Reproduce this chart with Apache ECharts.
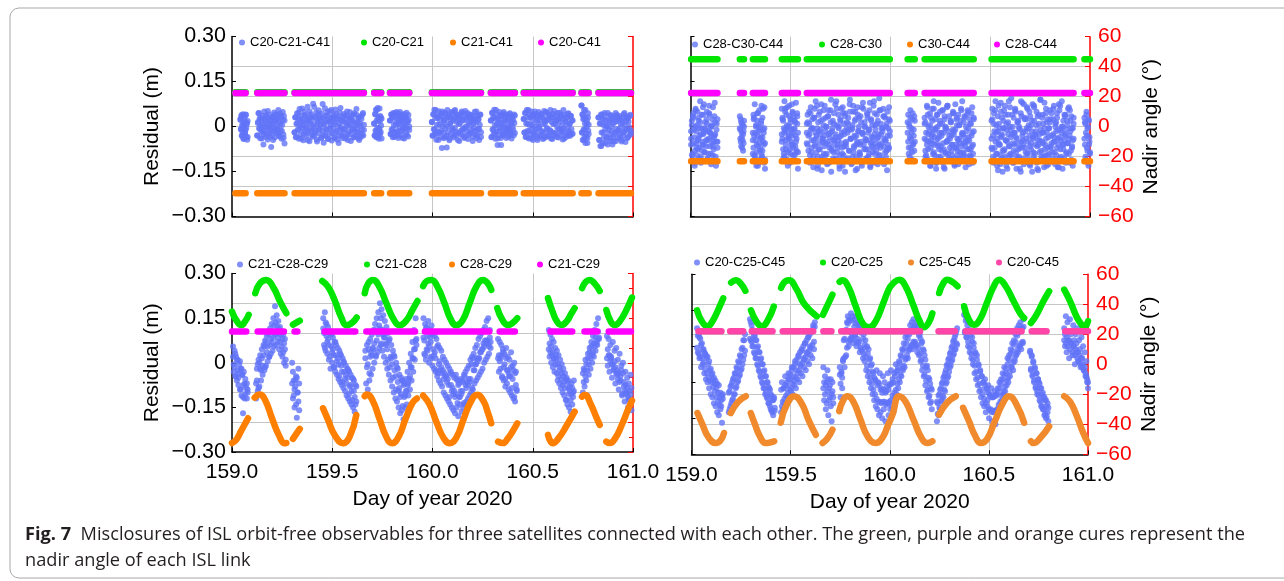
<!DOCTYPE html>
<html><head><meta charset="utf-8">
<script src="https://cdn.jsdelivr.net/npm/echarts@6/dist/echarts.min.js"></script>
<style>html,body{margin:0;padding:0;background:#fff}#c{width:1284px;height:581px}</style>
</head><body><div id="c"></div>
<script>
// ---------- tick labels ----------
const xTicks = [159.0, 159.5, 160.0, 160.5, 161.0];
const residualTicks = [-0.30, -0.15, 0, 0.15, 0.30];
const angleTicks = [-60, -40, -20, 0, 20, 40, 60];

// ---------- series names ----------
const namesTL = ['C20-C21-C41', 'C20-C21', 'C21-C41', 'C20-C41'];
const namesTR = ['C28-C30-C44', 'C28-C30', 'C30-C44', 'C28-C44'];
const namesBL = ['C21-C28-C29', 'C21-C28', 'C28-C29', 'C21-C29'];
const namesBR = ['C20-C25-C45', 'C20-C25', 'C25-C45', 'C20-C45'];

// ---------- residual clouds: [start day, end day, residual rows in mm spread over that pass] ----------
const residTL = [
 [159.042,159.078,[22,-8,35,-31,4,-18,41,-40,12,-2,28,-25,-12,38,-36,8,-44,18],[25,-10,38,-30,5,-42,18,-20,40,-5,12,-35]],
 [159.126,159.262,[-30,12,44,-6,27,-39,3,-18,21,-14,36,-26,50,1,-34,17,-4,31,-43,9,40,-21,24,-11,-68,-29,7,33,-16,47,-37,19,-8,26,-2,38,-23,14,-33,43,-12,29,-41,5,22,-27,35,-57],[-30,15,45,-8,28,-40,5,-60,22,-15,35,-25,52,0,-35,18,-5,30,-45,10,40,-20,25,-10,55,-30,8,35,-15,48,-38,20]],
 [159.312,159.658,[-19,31,-36,9,44,-11,24,-41,58,4,-26,37,-6,19,-46,14,49,-16,33,-31,-1,66,-21,27,-49,11,41,-9,23,-34,76,6,-29,34,-13,47,-43,17,-4,54,-23,29,7,-39,43,-14,26,-54,9,61,-31,21,-9,36,-41,16,51,-24,4,31,-47,23,-7,39,-36,13,57,-19,27,-44,1,34,-29,46,-11,-3,18,-38,29,-21,42,-8,12,-33,37,2,-45,25,-17,48,-26,8,35,-10,20,-37,44,-15,3,-28,39,-6,15,-40,30,-22,10,-35,26,-12,41,-30,6],[-20,30,-35,10,45,-10,25,-40,60,5,-25,38,-5,20,-45,15,50,-15,32,-30,0,65,-20,28,-50,12,40,-8,22,-35,75,5,-28,35,-12,48,-42,18,-5,55,-22,30,8,-38,42,-15,25,-55,10,62,-30,20,-10,35,-40,15,50,-25,5,30,-48,22,-8,40,-35,12,58,-18,28,-45,2,35,-28,45,-12]],
 [159.709,159.746,[10,-30,42,-14,56,-36,21,-4,62,-24,31,-41,-9,17,35,-18,3,26],[10,-30,40,-15,55,-35,20,-5,60,-25,30,-40]],
 [159.788,159.884,[20,-25,40,-10,31,-36,45,5,-19,35,-31,15,48,-15,25,-38,10,42,-5,30,-28,18,38,-12,-2,27,-40,8,33,-22,46,-7,14,-33,22,0],[20,-25,40,-10,30,-35,45,5,-20,35,-30,15,48,-15,25,-38,10,42,-5,30,-28,18,38,-12]],
 [159.997,160.242,[15,-31,41,-9,56,-24,28,-44,6,35,-16,51,-21,20,-36,43,-72,1,31,-39,12,47,-7,25,-31,55,-19,37,-46,8,30,-26,44,-11,19,-37,52,-4,32,-29,16,40,-20,24,-48,10,36,-14,50,-30,22,-7,41,-35,-1,28,-17,45,-42,11,33,-23,3,38,-12,27,-34,18,-5,49,-27,14,-38,34,-9,24,-45,6,39,-19],[15,-30,40,-10,55,-25,28,-45,5,35,-15,50,-20,20,-35,42,-70,0,30,-40,12,48,-8,25,-30,55,-18,38,-45,8,30,-25,45,-10,20,-38,52,-5,32,-28,15,40,-20,25,-48,10,35,-15,50,-30,22,-8,40,-35]],
 [160.291,160.411,[20,-36,46,-10,29,-24,56,5,-41,25,-16,38,-62,11,-30,48,-5,21,-38,35,1,-20,43,-27,14,31,-12,40,-22,-3,18,-33,27,-8,44,-17,9,-40,33,-1,22,-29,12,37],[20,-35,45,-10,30,-25,55,5,-40,25,-15,38,-62,10,-30,48,-5,22,-38,35,0,-20,42,-28,15,30,-12,40,-22]],
 [160.455,160.699,[25,-20,45,-35,10,55,-15,30,-40,5,38,-25,50,-10,20,-45,35,0,-30,42,-18,28,-38,12,48,-5,22,-32,40,-15,30,-42,8,52,-22,18,-35,45,-8,25,-28,38,-12,55,-40,15,30,-20,42,-30,10,35,-25,20,-3,27,-37,14,46,-11,33,-19,4,-43,24,-6,39,-27,17,-34,29,-2,44,-16,9,-31,36,-9,21,-24],[25,-20,45,-35,10,55,-15,30,-40,5,38,-25,50,-10,20,-45,35,0,-30,42,-18,28,-38,12,48,-5,22,-32,40,-15,30,-42,8,52,-22,18,-35,45,-8,25,-28,38,-12,55,-40,15,30,-20,42,-30,10,35,-25,20]],
 [160.743,160.779,[70,-20,40,-45,25,-10,55,-35,10,-55,30,-25,-2,18,-38,44,-14,6],[70,-20,40,-45,25,-10,55,-35,10,-55,30,-25]],
 [160.828,160.990,[30,-45,10,-65,40,-20,25,-55,5,-35,45,-10,20,-40,0,-60,35,-25,15,-48,38,-15,25,-35,10,-50,30,-20,45,-8,18,-38,28,-12,35,-25,-3,22,-44,12,-30,41,-18,6,-52,27,-9,33,-36,16,-2,-28,39,-14],[30,-45,10,-65,40,-20,25,-55,5,-35,45,-10,20,-40,0,-60,35,-25,15,-48,38,-15,25,-35,10,-50,30,-20,45,-8,18,-38,28,-12,35,-25]]
];
const residTR = [
 [159.003,159.135,[-40,20,-90,45,-10,-120,60,-55,5,-75,30,-30,85,-100,-5,-60,40,-20,-85,15,-45,50,-110,-15,70,-65,0,-35,25,-95,-50,35,-25,-130,10,-70],[-60,5,-110,30,-35,-80,55,-15,-95,-45,20,-70,-5,-120,40,-50,-25,75,-85,-10,-65,10,-105,-40,45,-20,-90,0,-55,65,-75,-30,15,-115,-50,25],[-15,-95,35,-55,-130,0,-70,50,-40,-105,15,-25,-80,65,-60,-5,-115,25,-45,-90,40,-20,-125,5,-65,-35,80,-100,-10,-50]],
 [159.247,159.268,[35,-10,-50,15,-35,-70,5,-25,-55,20],[-5,-40,25,-65,-20,10,-45,-80,-15,0]],
 [159.312,159.373,[-90,40,-30,75,-110,0,-60,20,-130,-15,55,-80,-40,10,-100,30,-50,-20,65,-140],[-20,-70,30,-100,-45,5,-85,-30,45,-120,-55,-10,-75,20,-95,-35,60,-60,-5,-110],[-45,25,-95,-20,-130,45,-65,0,-110,-35,70,-80,-10,-120,-55]],
 [159.457,159.538,[60,-40,20,-90,85,-10,-60,40,-110,0,-30,70,-75,15,-50,-20,50,-95,30,-5,-65,80,-40,10,-85],[-25,30,-75,-5,-100,50,-45,-15,65,-85,-35,0,-120,25,-60,-30,45,-70,-10,-95,15,-50,-80,35,-20],[-50,25,-105,-20,60,-75,5,-130,-40,35,-90,-10,75,-60,-115,20,-30,-85,45,-140]],
 [159.582,159.998,[-20,40,-80,10,-120,65,-45,-5,-100,30,-60,85,-30,-140,15,-75,50,-10,-110,-40,25,-90,70,-55,0,-125,35,-25,-70,55,-150,-15,20,-85,-45,75,-105,5,-60,40,-35,-95,60,-20,-130,10,-65,45,-50,-5,-115,30,-80,90,-40,-10,-100,50,-70,20,-145,-30,65,-55,0,-90,35,-120,-20,80,-60,15,-40,-105,45,-75,-10,55,-135,25,-50,-85,70,-25,5,-110,40,-65,-35,95,-95,10,-55,-15,60,-125,30,-45,-80,50,-5,-70,20],[10,-60,-30,50,-95,-10,-70,25,-115,-45,60,-20,-85,-5,-130,40,-55,-25,75,-100,-40,5,-65,-15,30,-90,-50,55,-120,-35,15,-75,-5,-105,45,-60,-25,85,-85,-45,0,-140,20,-30,-70,65,-95,-15,35,-55,-110,-20,10,-80,50,-40,-125,-5,70,-65,-35,25,-100,-50,40,-15,-85,-60,15,-130,-25,60,-75,0,-45,-110,30,-20,-90,80,-55,-35,5,-70,-120,45,-10,-80,-40,20,-95,-60,55,-25,-115,-5,-65,35,-45,-100,10,-30,-75,65,-15],[-55,15,-115,-25,45,-85,-5,-135,30,-65,-40,70,-100,-15,-75,20,-145,-50,55,-30,-95,0,-120,35,-60,-20,90,-80,-45,10,-110,-35,60,-70,-5,-130,25,-55,-90,45,-25,-150,-65,15,-105,-10,75,-40,-120,5,-85,-30,50,-60,-140,-15,30,-95,-50,65,-20,-115,0,-75,-45,40,-100,-10,-130,20,-65,-35,85,-90,-55,10,-125,-25,55,-70,-5,-110,35,-40,-85,0,-145,-60,25,-30]],
 [160.087,160.123,[-20,40,-70,10,-100,55,-40,-5,-85,25,-60,-30,35,-50],[15,-50,-90,0,-35,30,-70,-20,-110,45,-55,-10,-80,20]],
 [160.172,160.418,[30,-80,-20,70,-110,0,-50,45,-130,-30,20,-90,60,-60,-10,-120,40,-40,80,-75,10,-100,-20,55,-55,-135,25,-85,-5,65,-45,-110,35,-70,15,-30,-95,50,-15,-125,75,-60,5,-80,40,-40,-105,20,-65,85,-25,-90,30,-50,0,-115,55,-35,-75,10,-100,45,-20,-60,25],[-40,15,-95,-60,40,-25,-115,5,-70,-45,60,-10,-85,-35,25,-140,-55,0,-100,-20,50,-65,-30,10,-120,-75,35,-5,-90,-50,70,-15,-105,-40,20,-80,-60,45,-25,-130,-10,-70,30,-95,-45,5,-55,-115,55,-20,-85,15,-35,-65,-100,40,-50,-5,-125,25,-75,-30,65,-90,-15],[10,-100,-45,65,-75,-15,-130,30,-55,-25,85,-95,-5,-120,40,-65,-35,20,-110,-80,55,-20,-140,0,-50,70,-90,-30,-115,15,-60,-10,45,-105,-70,25,-40,-125,5,-85,60,-25,-100,-55,35,-135,-15,-75,50,-45,-95,10,-65,-120,30]],
 [160.507,160.918,[-40,60,-100,10,-70,85,-20,-130,35,-55,-5,-95,50,-30,-150,20,-80,70,-45,-10,-115,40,-65,0,-90,95,-25,-120,30,-60,55,-35,-100,15,-75,-5,-140,45,-50,80,-20,-105,25,-70,-40,65,-90,5,-125,35,-55,-15,75,-85,20,-110,-30,50,-65,-145,10,-45,90,-80,-20,40,-100,-5,-60,60,-130,25,-35,-90,15,-70,45,-115,-25,70,-50,0,-95,30,-40,-135,55,-75,-10,85,-60,20,-105,-30,40,-85,5,-55,65,-120,-15,35,-65,-45,10],[20,-75,-30,45,-110,-50,5,-90,-15,70,-60,-125,-35,30,-80,-5,55,-100,-45,10,-140,-25,85,-65,-10,-95,40,-55,-120,-20,60,-85,-40,15,-105,0,-70,-150,35,-30,-60,75,-115,-15,25,-90,-50,-5,50,-130,-75,20,-35,-100,65,-25,-60,5,-140,-45,40,-85,-10,-110,30,-55,-20,80,-95,-40,15,-70,-125,-5,55,-65,-30,-105,25,-50,-85,10,-15,45,-135,-60,-35,70,-100,-20,0,-75,-45,35,-120,-10,-55,60,-90,-30,20,-110,-70,-5,-40],[-70,25,-120,-15,55,-90,-40,-145,10,-60,80,-25,-105,-5,-75,40,-130,-50,15,-95,65,-35,-115,0,-80,-20,50,-140,-55,20,-100,-10,85,-70,-45,-125,30,-85,-5,60,-110,-30,-65,5,-150,-40,70,-90,-15,-120,35,-60,-25,90,-100,-50,10,-135,-75,45,-20,-95,-5,-115,25,-55,-85,60,-35,-125,15,-70,-10,75,-105,-45,0,-140,-60,40,-25,-90,20,-115,-40,55,-80,-5,-130,30]],
 [160.972,161.000,[30,-60,10,-110,50,-30,-80,0,-130,20,-50,-90],[-40,15,-100,-20,40,-70,-5,-120,25,-60,-35,-85]]
];
const residBL = [
 [159.005,159.078,[55,-30,40,-45,20,-60,10,-75,-5,-90,-20,-110,-40,-170,-30,-120,-55,-200,-70,-100],[20,-5,-15,30,-45,10,-25,-50,-35,5,-90,-20,-40,-115,-75,-70,-105,-85,-120,-90]],
 [159.120,159.268,[-120,-20,-95,10,-80,25,-60,45,-40,60,-25,75,-10,90,5,100,20,115,30,130,40,150,55,190,60,160,70,140,45,120,30,105,20,95,0,80,-10],[-70,-60,-5,-85,0,-20,-25,15,-10,25,55,-15,70,35,55,95,20,60,80,70,105,85,125,95,135,100,120,85,110,70,95,55,80,35,65,45,10]],
 [159.300,159.335,[0,-120,-60,-150,-80,-45,-185,-100,-130,-70],[-70,-30,-110,-90,-60,-140,-50,-100,-20,-160]],
 [159.455,159.620,[150,60,170,40,130,30,120,10,100,-20,95,0,85,-15,70,-30,60,-40,50,-55,40,-65,25,-75,15,-85,0,-95,-10,-110,-20,-120,-30,-130,-40,-140,-50,-150,-60,-165,-75,-130],[115,100,50,135,90,70,80,60,20,105,55,35,45,25,-15,70,25,5,15,-5,-45,30,-10,-30,-65,5,-30,-55,-40,-70,-50,-25,-105,-80,-75,-95,-125,-55,-95,-115,-140,-80]],
 [159.665,159.920,[40,-110,60,-90,70,-60,80,-40,95,-20,110,0,130,20,150,35,170,50,200,60,180,40,160,20,140,0,120,-20,100,-40,80,-60,60,-80,40,-100,20,-120,0,-130,-20,-150,-40,-170,-50,-160,-60,-190,-70,-150,-55,-140,-30,-110,0,-90,30,-60,70,-30,110,10,150,60],[15,-70,-15,-5,45,-35,20,35,25,50,45,65,110,25,75,105,95,125,115,150,65,110,95,85,85,60,65,45,10,75,-15,20,15,-5,-50,25,-25,-45,-90,-15,-65,-95,-85,-115,-105,-60,-145,-75,-115,-110,-95,-95,-75,-70,-55,-45,-15,-15,15,15,45,45,75,80]],
 [159.955,160.290,[150,30,130,10,120,40,140,0,110,20,125,-10,100,-20,90,-30,80,-45,60,-60,50,-70,40,-80,20,-100,10,-110,0,-120,-10,-130,-20,-140,-30,-150,-40,-160,-50,-170,-40,-150,-60,-180,-70,-140,-55,-165,-60,-150,-40,-140,-30,-130,-20,-120,-10,-110,10,-100,20,-90,30,-70,50,-60,60,-50,80,-40,90,-30,100,-20,110,0,120,10,140,20,150,30,110,50],[85,75,25,115,45,90,65,55,85,70,15,95,45,25,35,15,-25,55,-35,-5,5,-25,-15,-35,-25,-55,-35,-45,-45,-65,-55,-75,-115,-35,-75,-95,-85,-105,-95,-115,-105,-55,-135,-75,-115,-115,-95,-105,-95,-65,-135,-45,-75,-85,-65,-75,-55,-65,-55,-5,-85,15,-25,-25,-5,-5,15,5,15,15,35,35,45,45,65,55,75,65,75,75,65,55,85,70]],
 [160.327,160.420,[80,-30,70,-20,60,-50,45,-60,30,-80,50,-70,20,-90,10,-100,35,-110,-10,-120,0,-130,-30,-90],[15,25,5,15,25,-45,35,-15,-5,-55,15,-25,-25,-35,-45,-45,-15,-85,-55,-25,-115,-35,-75,-95]],
 [160.580,160.705,[110,20,95,0,80,-15,70,-30,50,10,40,-60,25,-70,10,-85,-5,-100,-20,-110,-35,-125,-50,-140,-60,-150,-80,-165,-70,-140,-100,-60],[45,65,35,55,25,35,15,15,-5,25,-35,-5,-45,-15,-25,-55,-35,-75,-45,-65,-85,-55,-125,-65,-85,-105,-95,-125,-105,-85,-115,-95]],
 [160.750,160.830,[-100,-20,-80,10,-60,-110,30,-40,50,-20,70,0,90,20,110,40,130,60,150,80],[-35,-65,-25,-45,-5,-25,15,-5,35,15,55,25,35,65,55,85,65,75,105,85]],
 [160.870,160.992,[90,-10,80,-30,60,20,-50,70,-20,40,-70,50,-40,10,-90,30,-60,-10,-110,0,-80,-130,-30,-100,-50,-150,-70,-120,-40,-160],[15,45,25,25,5,15,-5,-5,-25,5,-15,-35,-25,-55,-35,-65,-45,-25,-105,-35,-65,-95,-75,-105,-85,-115,-125,-95,-105,-85]]
];
const residBR = [
 [159.028,159.158,[120,40,100,20,85,-10,70,0,50,-30,35,-50,20,-60,0,-80,-20,-100,-35,-110,-50,-130,-65,-140,-80,-160,-95,-170,-110,-150,-120,-195,-100],[55,95,35,90,25,65,20,50,5,40,-15,30,-30,25,-45,10,-55,-15,-60,-30,-75,-45,-90,-55,-110,-65,-125,-70,-135,-95,-140,-105,-115]],
 [159.188,159.270,[-160,-90,-140,-70,-120,-50,-100,-30,-80,-10,-60,10,-40,30,-20,50,0,80,30,100],[-95,-150,-75,-130,-60,-115,-45,-100,-30,-75,-15,-55,5,-35,25,-15,55,15,80,45]],
 [159.295,159.420,[150,80,130,60,110,40,95,20,80,0,60,-20,40,-40,20,-60,0,-80,-20,-100,-40,-110,-60,-130,-80,-140,-100,-155,-120,-170,-110,-145],[85,140,75,115,60,95,35,80,20,55,-5,40,-25,15,-45,0,-65,-25,-80,-40,-95,-60,-115,-75,-130,-85,-150,-105,-160,-120,-115,-155]],
 [159.452,159.622,[-160,-60,-150,-80,-130,-40,-140,-70,-110,-30,-120,-50,-90,-10,-100,-40,-70,10,-80,-20,-50,30,-60,0,-30,50,-40,20,-10,70,-20,40,10,90,0,60,30,110,20,130,50,140],[-85,-140,-125,-80,-115,-70,-105,-60,-95,-50,-85,-35,-80,-20,-65,-10,-55,0,-45,15,-30,25,-20,40,-5,45,5,60,15,70,25,80,35,90,45,100,55,110,65,120,75,125]],
 [159.665,159.715,[-10,-120,-40,-150,-60,-20,-170,-80,-110,-50,-190,-90,-130],[-80,-60,-100,-70,-130,-90,-50,-120,-70,-140,-100,-60,-110]],
 [159.748,160.212,[-10,-110,-30,-80,10,80,-10,110,30,140,160,60,150,80,170,90,160,70,150,100,160,60,140,70,130,40,130,50,110,20,100,10,80,-20,60,-40,50,-60,20,-80,0,-100,-30,-120,-50,-140,-20,-150,-60,-170,-30,-160,-80,-180,-40,-150,-60,-190,-90,-130,-30,-170,-70,-150,-20,-140,-50,-160,-30,-110,0,-100,-20,-80,10,-60,30,-40,50,-20,70,-10,90,20,100,20,110,50,130,60,140,50,150,70,130,60,140,40,120,30,100,10,70,-20,50,-40,30,-70,-10,-90,-20,-110,-50,-130,-80,-150],[-35,-65,-25,-45,15,20,85,25,115,55,135,75,145,85,105,145,85,110,125,95,135,75,85,115,75,110,55,105,45,85,35,65,25,55,-5,35,-25,15,-45,-5,-65,-25,-85,-45,-100,-55,-115,-70,-125,-65,-125,-85,-130,-95,-125,-85,-125,-95,-135,-75,-130,-85,-125,-65,-120,-65,-105,-60,-95,-40,-85,-25,-65,-10,-50,5,-35,25,-15,45,-5,55,15,70,30,85,45,100,55,110,65,120,75,120,75,125,65,110,55,95,35,85,15,75,-5,45,-35,15,-55,-5,-85,-45,-105,-65,-125,-85]],
 [160.238,160.340,[-190,-130,-170,-100,-150,-80,-120,-60,-110,-40,-90,-20,-60,0,-40,20,-10,40,10,60,30,80,50,100,70,120],[-125,-165,-105,-145,-85,-125,-65,-105,-45,-85,-30,-65,-5,-45,15,-25,35,-5,55,15,75,35,90,50,110,65]],
 [160.375,160.675,[190,110,160,90,150,60,140,40,110,20,90,0,70,-30,40,-50,30,-70,0,-90,-20,-110,-40,-130,-60,-140,-50,-160,-80,-120,-70,-180,-100,-150,-80,-190,-110,-160,-90,-200,-100,-170,-80,-150,-60,-140,-50,-120,-30,-100,-10,-90,-30,-70,20,-60,30,-40,50,-10,70,-20,80,10,100,30,120,40,130,60,140,50,120,70,150],[165,105,145,90,130,75,115,55,95,35,75,15,55,-5,35,-25,15,-45,-5,-65,-25,-85,-40,-100,-60,-115,-70,-130,-85,-140,-95,-150,-105,-155,-110,-160,-110,-155,-105,-155,-105,-150,-95,-135,-80,-125,-65,-105,-50,-90,-35,-75,-15,-55,0,-45,15,-25,35,-10,45,5,65,20,75,35,95,50,105,60,115,70,120,75,125]],
 [160.708,160.800,[40,-20,30,-40,10,-60,-10,-80,-30,-100,-50,-60,-120,-80,-140,-100,-150,-110,-170,-120,-180,-140,-160,-190],[45,-15,25,-35,5,-55,-15,-75,-30,-90,-50,-105,-65,-125,-80,-140,-95,-150,-110,-165,-120,-175,-130,-145]],
 [160.880,161.000,[120,60,160,40,140,80,20,150,70,110,30,130,60,0,100,40,120,10,80,50,-10,90,20,60,-20,40,-40,10,-60,-80],[80,100,70,90,60,110,80,50,100,70,40,60,80,30,50,70,20,40,10,30,0,20,-10,0,-20,-10,-30,-40,-50,-60]]
];

// ---------- nadir angles (deg) ----------
const winTL = [[159.017,159.068],[159.126,159.262],[159.312,159.658],[159.709,159.744],[159.788,159.884],[159.997,160.242],[160.291,160.411],[160.455,160.699],[160.743,160.779],[160.828,160.990]];
const levelTL = { green: 22.9, orange: -44.5, magenta: 22.3 };
const winTR = [[159.003,159.135],[159.247,159.268],[159.312,159.373],[159.457,159.538],[159.582,159.998],[160.087,160.123],[160.172,160.418],[160.507,160.918],[160.972,161.000]];
const levelTR = { green: 45.0, orange: -23.0, magenta: 22.5 };
const winBL = [[159.000,159.071],[159.128,159.259],[159.312,159.326],[159.462,159.615],[159.670,159.913],[159.962,160.283],[160.335,160.411],[160.588,160.697],[160.758,160.822],[160.879,160.990]];
const levelBL = 21.0;
const winBR = [[159.035,159.151],[159.195,159.261],[159.304,159.409],[159.460,159.614],[159.665,159.706],[159.755,160.153],[160.246,160.329],[160.383,160.665],[160.716,160.791],[160.885,161.000]];
const levelBR = 22.0;

const greenBL = [
 [[159.000,34.4],[159.022,28.5],[159.046,25.3],[159.066,28.0],[159.083,32.2]],
 [[159.116,46.7],[159.140,53.5],[159.171,55.7],[159.205,51.0],[159.240,41.0],[159.271,33.3]],
 [[159.304,25.6],[159.338,28.3]],
 [[159.450,55.0],[159.480,51.0],[159.512,42.0],[159.545,30.5],[159.572,25.2],[159.600,27.0],[159.622,30.4]],
 [[159.662,46.7],[159.680,53.5],[159.703,55.7],[159.735,51.0],[159.770,40.0],[159.805,29.5],[159.836,25.2],[159.870,28.5],[159.900,35.5],[159.925,41.5]],
 [[159.953,51.5],[159.975,55.2],[159.995,55.7],[160.025,51.0],[160.060,40.0],[160.090,29.5],[160.119,25.2],[160.150,28.5],[160.185,40.0],[160.220,51.5],[160.252,55.7],[160.275,53.5],[160.293,49.0]],
 [[160.323,36.7],[160.350,28.5],[160.377,25.4],[160.400,26.8],[160.423,30.0]],
 [[160.576,43.4],[160.600,34.0],[160.620,28.0],[160.642,25.4],[160.670,28.0],[160.690,32.5],[160.709,36.7]],
 [[160.746,50.1],[160.765,54.5],[160.784,55.7],[160.810,53.0],[160.834,48.3]],
 [[160.867,35.5],[160.890,27.5],[160.909,25.4],[160.935,28.0],[160.965,35.0],[160.995,43.8]]
];
const orangeBL = [
 [[159.000,-54.0],[159.020,-52.0],[159.045,-46.0],[159.065,-41.0],[159.080,-37.3]],
 [[159.113,-23.4],[159.138,-21.3],[159.165,-25.0],[159.200,-37.5],[159.235,-49.0],[159.263,-54.1],[159.271,-54.0]],
 [[159.304,-51.2],[159.320,-48.0],[159.338,-44.5]],
 [[159.454,-30.6],[159.479,-38.4],[159.512,-48.5],[159.554,-54.1],[159.587,-49.6],[159.620,-35.1]],
 [[159.662,-22.5],[159.672,-21.3],[159.700,-25.0],[159.735,-37.5],[159.770,-50.0],[159.798,-54.1],[159.830,-50.0],[159.865,-38.0],[159.900,-27.0],[159.922,-24.0]],
 [[159.953,-22.0],[159.985,-28.0],[160.020,-40.0],[160.055,-50.5],[160.086,-54.1],[160.120,-50.0],[160.155,-38.0],[160.190,-26.5],[160.223,-21.5],[160.255,-26.0],[160.275,-33.0],[160.293,-40.7]],
 [[160.327,-53.0],[160.350,-54.0],[160.375,-51.0],[160.400,-46.0],[160.423,-40.7]],
 [[160.576,-48.5],[160.600,-54.1],[160.630,-50.5],[160.670,-42.0],[160.709,-32.9]],
 [[160.746,-22.8],[160.759,-21.5],[160.790,-28.0],[160.815,-36.0],[160.834,-41.8]],
 [[160.867,-53.0],[160.884,-54.0],[160.910,-51.0],[160.945,-41.5],[160.975,-31.5],[160.995,-25.5]]
];
const greenBR = [
 [[159.028,36.0],[159.055,28.0],[159.081,25.3],[159.105,28.5],[159.135,36.5],[159.160,44.0]],
 [[159.200,54.5],[159.224,56.0],[159.250,53.5],[159.272,49.0]],
 [[159.300,36.0],[159.330,28.0],[159.355,25.3],[159.385,29.5],[159.415,38.5]],
 [[159.452,51.0],[159.470,55.0],[159.492,56.0],[159.530,50.0],[159.570,40.0],[159.632,32.0]],
 [[159.663,33.0],[159.688,40.0],[159.711,46.4]],
 [[159.747,55.0],[159.761,56.0],[159.790,52.0],[159.830,38.0],[159.865,27.0],[159.896,24.7],[159.930,29.0],[159.965,40.0],[159.995,50.0],[160.014,53.5],[160.047,56.4],[160.080,52.0],[160.120,39.0],[160.150,29.0],[160.173,24.7],[160.195,27.5],[160.215,34.0]],
 [[160.249,47.5],[160.270,54.0],[160.291,56.4],[160.315,55.0],[160.342,52.0]],
 [[160.375,38.7],[160.400,29.5],[160.426,26.4],[160.455,30.0],[160.490,41.0],[160.525,52.0],[160.552,56.4],[160.585,52.0],[160.625,42.0],[160.660,33.5],[160.678,30.9]],
 [[160.712,27.5],[160.740,33.0],[160.775,42.0],[160.804,48.7]],
 [[160.880,49.8],[160.910,42.0],[160.945,31.0],[160.970,26.0],[160.981,24.7],[161.000,28.7]]
];
const orangeBR = [
 [[159.030,-32.5],[159.055,-40.0],[159.085,-48.5],[159.123,-52.5],[159.145,-51.0],[159.164,-45.8]],
 [[159.198,-32.5],[159.235,-25.0],[159.274,-21.3]],
 [[159.299,-32.5],[159.320,-40.0],[159.345,-48.0],[159.375,-52.5],[159.400,-52.0],[159.417,-51.3]],
 [[159.450,-39.0],[159.480,-27.0],[159.518,-21.3],[159.555,-26.0],[159.590,-37.0],[159.627,-47.0]],
 [[159.661,-52.5],[159.685,-49.5],[159.711,-43.6]],
 [[159.745,-31.3],[159.765,-24.0],[159.787,-21.3],[159.815,-24.5],[159.850,-36.0],[159.890,-48.5],[159.930,-52.5],[159.965,-48.5],[159.990,-41.0],[160.014,-33.6],[160.047,-21.3],[160.080,-25.0],[160.120,-37.0],[160.160,-49.0],[160.190,-52.5],[160.215,-51.3]],
 [[160.249,-33.6],[160.290,-25.5],[160.333,-21.3]],
 [[160.370,-29.0],[160.400,-38.0],[160.430,-47.5],[160.460,-52.5],[160.490,-50.0],[160.530,-38.0],[160.570,-26.0],[160.602,-21.3],[160.640,-27.0],[160.678,-39.0]],
 [[160.712,-51.3],[160.725,-52.5],[160.760,-49.0],[160.804,-41.3]],
 [[160.880,-21.3],[160.910,-25.0],[160.945,-35.0],[160.975,-45.5],[161.000,-52.5]]
];

// ---------- builders ----------
function cloud(list){ const out=[]; list.forEach(p=>{ const t0=p[0], t1=p[1]; p.slice(2).forEach(v=>{ const n=v.length; v.forEach((r,i)=>out.push([t0+(t1-t0)*(n>1?i/(n-1):0), r/1000])); }); }); return out; }
function passes(list){ const out=[]; list.forEach((p,k)=>{ if(k) out.push([p[0][0], null]); p.forEach(q=>out.push(q)); }); return out; }
function level(wins, v){ return passes(wins.map(w=>[[w[0],v],[w[1],v]])); }

const BLUE='#6073f7', GREEN='#00e600', ORANGE='#ff8000', MAGENTA='#ff00ff', ORANGE2='#f08a2c', PINK='#ff45a8';
const FONT='Liberation Sans';
const fmtRes = v => Math.abs(v)<1e-9 ? '0' : (v<0?'\u2212':'') + Math.abs(v).toFixed(2);
const fmtAng = v => (v<0?'\u2212':'') + Math.abs(Math.round(v));

function xAx(g, labels){ return {type:'value', gridIndex:g, min:159, max:161, interval:0.5,
  axisLine:{onZero:false, lineStyle:{color:'#000', width:1.5}},
  axisTick:{inside:true, length:4, lineStyle:{color:'#000'}},
  splitLine:{show:true, showMinLine:false, showMaxLine:false, lineStyle:{color:'#c6c6c6', width:1}},
  axisLabel:{show:labels, formatter:v=>v.toFixed(1), fontSize:21, fontFamily:FONT, color:'#000', margin:10},
  name: labels?'Day of year 2020':'', nameLocation:'middle', nameGap:37,
  nameTextStyle:{fontSize:21, fontFamily:FONT, color:'#000'}}; }
function yL(g, labels, interval){ return {type:'value', gridIndex:g, position:'left', min:-0.3, max:0.3, interval:interval,
  axisLine:{show:true, onZero:false, lineStyle:{color:'#000', width:1.5}},
  axisTick:{show:true, inside:true, length:4, lineStyle:{color:'#000'}},
  splitLine:{show:false},
  axisLabel:{show:labels, formatter:fmtRes, fontSize:21.5, fontFamily:FONT, color:'#000', margin:6},
  name: labels?'Residual (m)':'', nameLocation:'middle', nameRotate:90, nameGap:69,
  nameTextStyle:{fontSize:21, fontFamily:FONT, color:'#000'}}; }
function yR(g, labels, minor){ return {type:'value', gridIndex:g, position:'right', min:-60, max:60, interval:20,
  axisLine:{show:true, onZero:false, lineStyle:{color:'#ff0000', width:1.5}},
  axisTick:{show:true, inside:true, length:5, lineStyle:{color:'#ff0000'}},
  minorTick:{show:minor, splitNumber:2, length:4, lineStyle:{color:'#ff0000'}},
  splitLine:{show:true, showMinLine:false, showMaxLine:false, lineStyle:{color:'#c6c6c6', width:1}},
  axisLabel:{show:labels, formatter:fmtAng, fontSize:21, fontFamily:FONT, color:'#ff0000', margin:8},
  name: labels?'Nadir angle (\u00b0)':'', nameLocation:'middle', nameRotate:90, nameGap:51,
  nameTextStyle:{fontSize:21, fontFamily:FONT, color:'#000'}}; }

function scat(name, g, data){ return {type:'scatter', name, xAxisIndex:g, yAxisIndex:2*g, data, symbolSize:6, itemStyle:{color:BLUE}, z:2}; }
function ang(name, g, data, color, z){ return {type:'line', name, xAxisIndex:g, yAxisIndex:2*g+1, data, showSymbol:false, symbol:'circle',
  smooth:0.5, connectNulls:false, lineStyle:{width:6.5, color, cap:'round', join:'round'}, itemStyle:{color}, z:z||3}; }
function leg(name, left, top){ return {data:[{name, icon:'circle'}], left, top, itemWidth:6, itemHeight:6, padding:0, selectedMode:false,
  textStyle:{fontSize:13, fontFamily:FONT, color:'#000'}}; }

const option = {
  animation:false, backgroundColor:'#fff',
  grid:[
    {left:232, top:36.5, width:401, height:180},
    {left:690.5, top:36.7, width:399.5, height:180},
    {left:232, top:273.5, width:401, height:178.5},
    {left:691.5, top:274.3, width:396.5, height:180}
  ],
  xAxis:[xAx(0,false), xAx(1,false), xAx(2,true), xAx(3,true)],
  yAxis:[yL(0,true,0.15), yR(0,false,false), yL(1,false,0.15), yR(1,true,false), yL(2,true,0.15), yR(2,false,true), yL(3,false,0.12), yR(3,true,false)],
  legend:[
    leg(namesTL[0],239,36), leg(namesTL[1],361,36), leg(namesTL[2],450,36), leg(namesTL[3],538,36),
    leg(namesTR[0],692,38), leg(namesTR[1],819,38), leg(namesTR[2],907,38), leg(namesTR[3],994,38),
    leg(namesBL[0],237,258), leg(namesBL[1],364,258), leg(namesBL[2],449,258), leg(namesBL[3],537,258),
    leg(namesBR[0],694,256), leg(namesBR[1],820,256), leg(namesBR[2],908,256), leg(namesBR[3],996,256)
  ],
  series:[
    scat(namesTL[0],0,cloud(residTL)),
    ang(namesTL[1],0,level(winTL,levelTL.green),GREEN,3),
    ang(namesTL[2],0,level(winTL,levelTL.orange),ORANGE,3),
    ang(namesTL[3],0,level(winTL,levelTL.magenta),MAGENTA,4),
    scat(namesTR[0],1,cloud(residTR)),
    ang(namesTR[1],1,level(winTR,levelTR.green),GREEN,3),
    ang(namesTR[2],1,level(winTR,levelTR.orange),ORANGE,3),
    ang(namesTR[3],1,level(winTR,levelTR.magenta),MAGENTA,4),
    scat(namesBL[0],2,cloud(residBL)),
    ang(namesBL[1],2,passes(greenBL),GREEN,3),
    ang(namesBL[2],2,passes(orangeBL),ORANGE,3),
    ang(namesBL[3],2,level(winBL,levelBL),MAGENTA,4),
    scat(namesBR[0],3,cloud(residBR)),
    ang(namesBR[1],3,passes(greenBR),GREEN,3),
    ang(namesBR[2],3,passes(orangeBR),ORANGE2,3),
    ang(namesBR[3],3,level(winBR,levelBR),PINK,4)
  ],
  graphic:[
    {type:'rect', shape:{x:10, y:8, width:1300, height:570, r:9}, style:{fill:'none', stroke:'#a8a8a8', lineWidth:1}, silent:true, z:0},
    {type:'text', x:25, y:535, style:{text:'{b|Fig. 7}  Misclosures of ISL orbit-free observables for three satellites connected with each other. The green, purple and orange cures represent the',
      fontSize:18.2, fontFamily:'Open Sans', fill:'#231f20', verticalAlign:'middle',
      rich:{b:{fontWeight:'bold', fontSize:18.2, fontFamily:'Open Sans', fill:'#231f20'}}}, silent:true},
    {type:'text', x:25, y:561, style:{text:'nadir angle of each ISL link', fontSize:18.2, fontFamily:'Open Sans', fill:'#231f20', verticalAlign:'middle'}, silent:true}
  ]
};
const chart = echarts.init(document.getElementById('c'), null, {renderer:'canvas'});
chart.setOption(option);
</script></body></html>
